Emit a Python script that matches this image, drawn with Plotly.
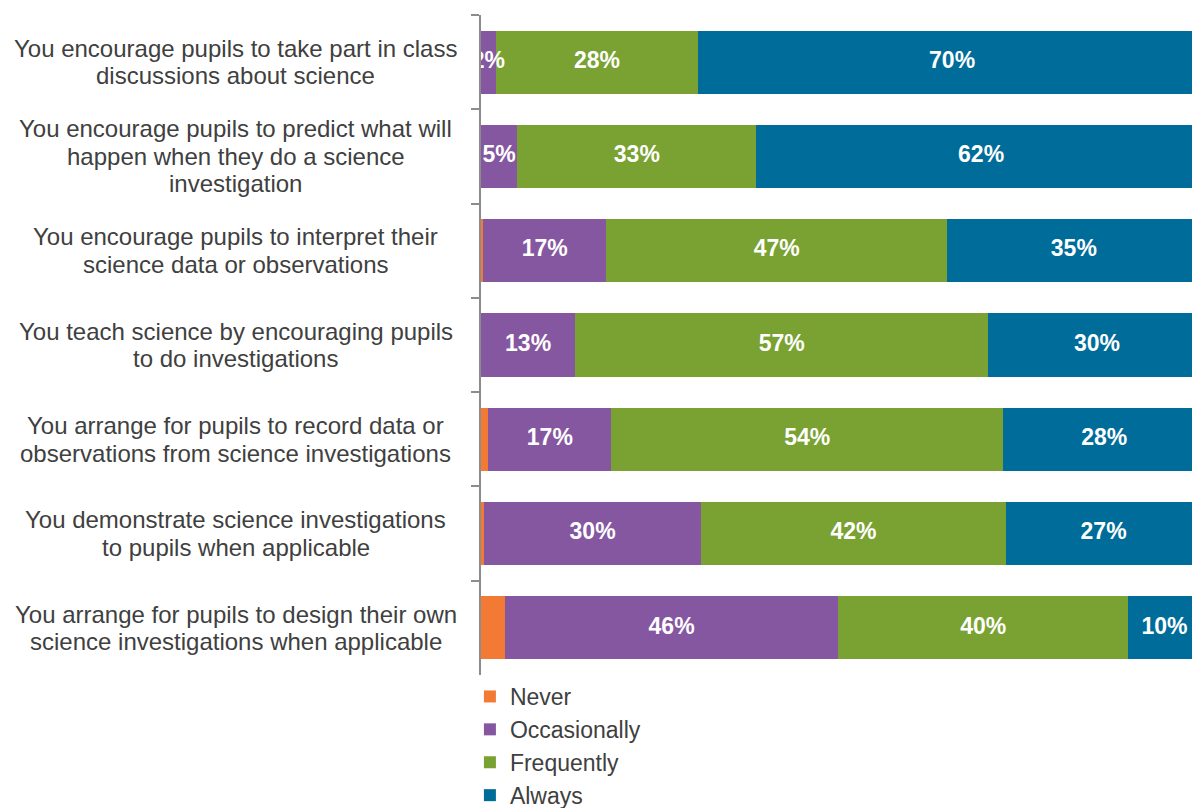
import plotly.graph_objects as go

# Survey statements, top to bottom (lines split with <br>)
statements = [
    "You encourage pupils to take part in class<br>discussions about science",
    "You encourage pupils to predict what will<br>happen when they do a science<br>investigation",
    "You encourage pupils to interpret their<br>science data or observations",
    "You teach science by encouraging pupils<br>to do investigations",
    "You arrange for pupils to record data or<br>observations from science investigations",
    "You demonstrate science investigations<br>to pupils when applicable",
    "You arrange for pupils to design their own<br>science investigations when applicable",
]
row_keys = [f"s{i}" for i in range(len(statements))]

# Share of teachers (%) by response
never = [0, 0, 0.3, 0, 1, 0.4, 3.3]
occasionally = [2, 5, 17, 13, 17, 30, 46]
frequently = [28, 33, 47, 57, 54, 42, 40]
always = [70, 62, 35, 30, 28, 27, 10]

series = [
    ("Never", never, "#F37A35", False),
    ("Occasionally", occasionally, "#8657A1", True),
    ("Frequently", frequently, "#79A232", True),
    ("Always", always, "#006C9A", True),
]

FONT = "Liberation Sans, Arial, sans-serif"
TEXT_GREY = "#404040"
LINE_STEP = 27.5  # px between lines of a category label

fig = go.Figure()

# Stacked bars
for name, vals, color, _ in series:
    fig.add_trace(go.Bar(
        name=name, y=row_keys, x=vals, orientation="h",
        marker=dict(color=color, line=dict(width=0)),
        legendgroup=name, hoverinfo="skip",
    ))

# Value labels centred in each labelled segment, drawn above all bars
base = [0.0] * len(row_keys)
for name, vals, color, labelled in series:
    if labelled:
        mids = [b + v / 2 for b, v in zip(base, vals)]
        fig.add_trace(go.Scatter(
            x=mids, y=row_keys, mode="text",
            text=[f"{v:.0f}%" for v in vals],
            textposition="middle center",
            textfont=dict(family=FONT, size=23, color="white", weight="bold"),
            cliponaxis=True, showlegend=False, hoverinfo="skip",
        ))
    base = [b + v for b, v in zip(base, vals)]

# Centred multi-line category labels to the left of the axis
for key, text in zip(row_keys, statements):
    lines = text.split("<br>")
    n = len(lines)
    for j, line in enumerate(lines):
        fig.add_annotation(
            x=-0.3446, xref="paper", xanchor="center",
            y=key, yref="y", yanchor="middle",
            yshift=((n - 1) / 2 - j) * LINE_STEP,
            text=line, showarrow=False,
            font=dict(family=FONT, size=24, color=TEXT_GREY),
        )

fig.update_layout(
    width=1192, height=808,
    margin=dict(l=481, r=0, t=15, b=133, autoexpand=False),
    paper_bgcolor="white", plot_bgcolor="white",
    barmode="stack",
    bargap=0.33,
    showlegend=True,
    legend=dict(
        orientation="v", traceorder="grouped", tracegroupgap=0,
        x=-0.0156, xanchor="left", y=0.0, yanchor="top",
        font=dict(family=FONT, size=23, color=TEXT_GREY),
        itemclick=False, itemdoubleclick=False,
    ),
    xaxis=dict(
        range=[0, 98.1], showgrid=False, zeroline=False,
        showticklabels=False, showline=False, ticks="",
    ),
    yaxis=dict(
        type="category", categoryorder="array", categoryarray=row_keys,
        autorange="reversed",
        showticklabels=False, showgrid=False, zeroline=False,
        showline=True, linecolor="#8C8C8C", linewidth=2,
        ticks="outside", tickson="boundaries", ticklen=8,
        tickcolor="#8C8C8C", tickwidth=2,
    ),
)

fig.write_html("out.html")
